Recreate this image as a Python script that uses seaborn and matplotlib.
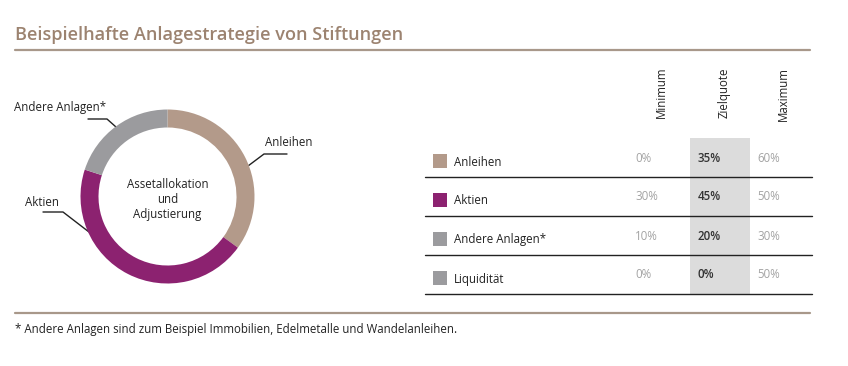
import matplotlib
matplotlib.use("Agg")
import matplotlib.pyplot as plt
from matplotlib.patches import Rectangle
import seaborn as sns
import pandas as pd

# Daten
kategorien = ["Anleihen", "Aktien", "Andere Anlagen*", "Liquidität"]
minimum = [0, 30, 10, 0]
zielquote = [35, 45, 20, 0]
maximum = [60, 50, 30, 50]
farben = ["#B39A8A", "#8C2270", "#9B9B9E", "#9B9B9E"]
spalten = ["Minimum", "Zielquote", "Maximum"]

titel = "Beispielhafte Anlagestrategie von Stiftungen"
mitte_text = "Assetallokation\nund\nAdjustierung"
fussnote = "* Andere Anlagen sind zum Beispiel Immobilien, Edelmetalle und Wandelanleihen."

sns.set_theme(style="white")
plt.rcParams["font.family"] = ["Open Sans", "DejaVu Sans"]

W, H = 848, 366
fs = 8.3
fig = plt.figure(figsize=(W / 100, H / 100), dpi=100)
fig.patch.set_facecolor("white")

# Hintergrund-Achse in Pixelkoordinaten
bg = fig.add_axes([0, 0, 1, 1])

df = pd.DataFrame({"kat": kategorien, "y": [161 + i * 39 for i in range(len(kategorien))],
                   "x": [440] * len(kategorien)})
sns.scatterplot(data=df, x="x", y="y", hue="kat", palette=farben, marker="s",
                s=100, linewidth=0, legend=False, ax=bg, zorder=3)
bg.set_xlim(0, W)
bg.set_ylim(H, 0)
bg.axis("off")

braun = "#9C8370"
bg.text(15, 35, titel, fontsize=13.1, fontweight="semibold", color=braun,
        va="center", ha="left")
bg.plot([15, 810], [50, 50], color="#A8988A", lw=1.6)
bg.plot([15, 810], [313, 313], color="#A8988A", lw=1.6)
bg.text(15, 329, fussnote, fontsize=fs, color="#222222", va="center", ha="left")

# Tabelle
y0, dy = 161, 39
x_spalten = [635, 698, 757]
bg.add_patch(Rectangle((690, 138), 60, 156, color="#DCDCDC", lw=0, zorder=0))
for j, name in enumerate(spalten):
    bg.text(x_spalten[j] + 26, 67, name, rotation=90, fontsize=fs, color="#222222",
            ha="center", va="top")

for i, kat in enumerate(kategorien):
    y = y0 + i * dy
    bg.text(454, y + 1, kat, fontsize=fs, color="#222222", va="center", ha="left")
    werte = [minimum[i], zielquote[i], maximum[i]]
    for j, w in enumerate(werte):
        dunkel = j == 1
        bg.text(x_spalten[j], y - 3, f"{w}%", fontsize=fs,
                color="#333333" if dunkel else "#A3A3A3",
                fontweight="semibold" if dunkel else "normal",
                va="center", ha="left")
    bg.plot([425, 812], [y + 16, y + 16], color="#222222", lw=1.0)

# Donut
cx, cy, r = 167.5, 196.5, 87
pad = 92
ax = fig.add_axes([(cx - pad) / W, 1 - (cy + pad) / H, 2 * pad / W, 2 * pad / H])
ax.pie(zielquote[:3], colors=farben[:3], startangle=90, counterclock=False,
       radius=1, wedgeprops=dict(width=18 / r, linewidth=0))
ax.set_xlim(-pad / r, pad / r)
ax.set_ylim(-pad / r, pad / r)
ax.set_aspect("equal")
ax.patch.set_alpha(0)
ax.text(0, -0.03, mitte_text, ha="center", va="center", fontsize=fs,
        color="#222222", linespacing=1.2)

# Beschriftungen mit Führungslinien (Pixelkoordinaten)
fuehrung = [
    ("Anleihen", [(248, 166), (264, 154), (287, 154)], (265, 143)),
    ("Aktien", [(89, 232), (63, 212), (43, 212)], (25, 202)),
    ("Andere Anlagen*", [(116, 127), (107, 119), (88, 119)], (14, 108)),
]
for name, pts, pos in fuehrung:
    xs, ys = zip(*pts)
    bg.plot(xs, ys, color="#222222", lw=1.0, zorder=5)
    bg.text(pos[0], pos[1], name, fontsize=fs, color="#222222", va="center", ha="left")

fig.savefig("out.png", dpi=100, facecolor="white")
